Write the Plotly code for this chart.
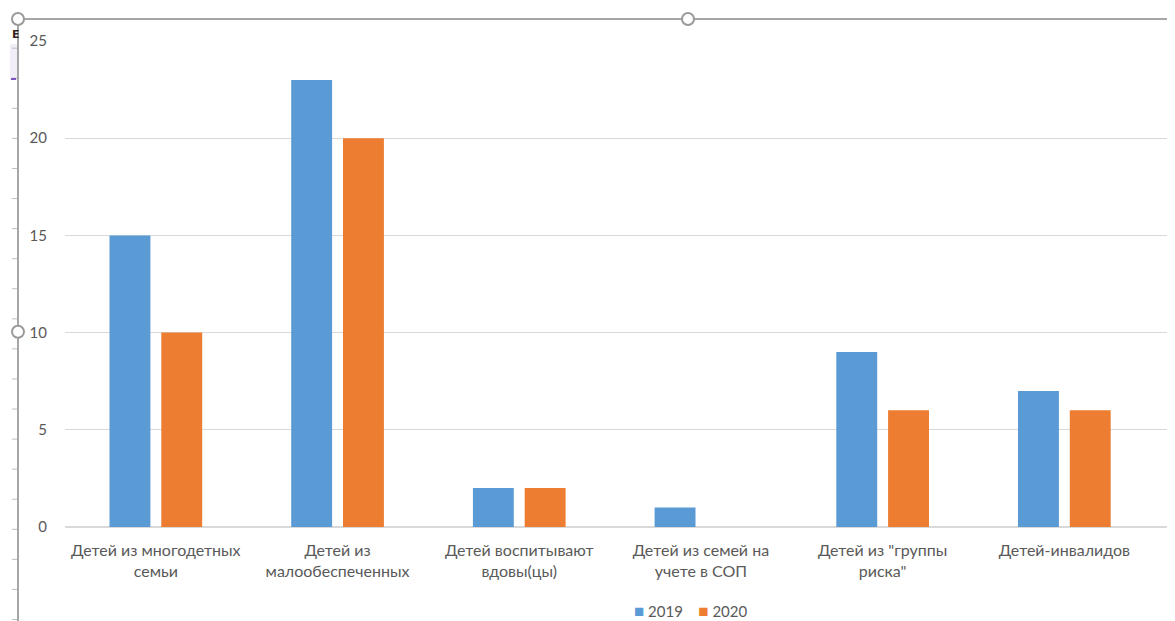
import plotly.graph_objects as go

categories = [
    "Детей из многодетных<br>семьи",
    "Детей из<br>малообеспеченных",
    "Детей воспитывают<br>вдовы(цы)",
    "Детей из семей на<br>учете в СОП",
    "Детей из \"группы<br>риска\"",
    "Детей-инвалидов",
]
series_names = ["2019", "2020"]
values_2019 = [15, 23, 2, 1, 9, 7]
values_2020 = [10, 20, 2, 0, 6, 6]
y_ticks = [0, 5, 10, 15, 20, 25]
colors = ["#5B9BD5", "#ED7D31"]

OFF = 8  # page body margin
SW, SH = 1175, 621  # screen size
W, H = SW - OFF, SH - OFF
# target plot area in screen pixels
PL, PR, PT, PB = 65, 1175, 41, 527.5
ML, MR, MT, MB = PL - OFF, W - (PR - OFF), PT - OFF, H - (PB - OFF)
PW = W - ML - MR
PH = H - MT - MB

def sx(px):
    return (px - PL) / PW

def sy(py):
    return (PB - py) / PH

fig = go.Figure()
fig.add_trace(go.Bar(x=list(range(len(categories))), y=values_2019, name=series_names[0],
                     marker=dict(color=colors[0], line=dict(width=0))))
fig.add_trace(go.Bar(x=list(range(len(categories))), y=values_2020, name=series_names[1],
                     marker=dict(color=colors[1], line=dict(width=0))))

shapes = []
frame = "#A6A6A6"
shapes.append(dict(type="line", xref="paper", yref="paper",
                   x0=sx(18), x1=sx(SW + 5), y0=sy(19), y1=sy(19),
                   line=dict(color=frame, width=2), layer="above"))
shapes.append(dict(type="line", xref="paper", yref="paper",
                   x0=sx(18), x1=sx(18), y0=sy(19), y1=sy(SH + 5),
                   line=dict(color=frame, width=2), layer="above"))
yy = 48.2
while yy < SH:
    shapes.append(dict(type="line", xref="paper", yref="paper",
                       x0=sx(12), x1=sx(17), y0=sy(yy), y1=sy(yy),
                       line=dict(color="#BFBFBF", width=1), layer="above"))
    yy += 30.1
# small purple mark and light panel at top-left (cropped window artefact)
shapes.append(dict(type="rect", xref="paper", yref="paper",
                   x0=sx(10), x1=sx(17), y0=sy(80), y1=sy(44),
                   fillcolor="#F1EEF8", line=dict(width=0), layer="below"))
shapes.append(dict(type="line", xref="paper", yref="paper",
                   x0=sx(11), x1=sx(16), y0=sy(79), y1=sy(79),
                   line=dict(color="#7B52C4", width=2), layer="above"))
for cx, cy in [(18, 19), (688, 19), (18, 332)]:
    r = 6
    shapes.append(dict(type="circle", xref="paper", yref="paper",
                       x0=sx(cx - r), x1=sx(cx + r), y0=sy(cy + r), y1=sy(cy - r),
                       fillcolor="white", line=dict(color="#9A9A9A", width=2), layer="above"))

legend_text = "&nbsp;&nbsp;&nbsp;&nbsp;".join(
    f"<span style='color:{c};font-size:17px'>■</span> {n}" for c, n in zip(colors, series_names)
)
annotations = [
    dict(xref="paper", yref="paper", x=sx(691), y=sy(611), xanchor="center",
         yanchor="middle", showarrow=False, text=legend_text,
         font=dict(family="Lato, sans-serif", size=15, color="#595959")),
    dict(xref="paper", yref="paper", x=sx(10), y=sy(34), xanchor="left",
         yanchor="middle", showarrow=False, text="<b>E</b>",
         font=dict(family="DejaVu Sans", size=11, color="#3A1F1F")),
]

fig.update_layout(
    width=W, height=H,
    margin=dict(l=ML, r=MR, t=MT, b=MB, pad=0),
    paper_bgcolor="white", plot_bgcolor="white",
    font=dict(family="Lato, 'Open Sans', sans-serif", size=16, color="#595959"),
    barmode="group", bargap=0.43, bargroupgap=0.21,
    showlegend=False,
    xaxis=dict(tickmode="array", tickvals=list(range(len(categories))), ticktext=categories,
               range=[-0.5, -0.5 + PW / 181.7], showgrid=False, zeroline=False,
               showline=False, ticks="", ticklabelstandoff=12,
               tickfont=dict(size=16, color="#595959"), fixedrange=True),
    yaxis=dict(range=[0, 25], tickvals=y_ticks, showgrid=True, gridcolor="#D9D9D9", gridwidth=1,
               zeroline=True, zerolinecolor="#D9D9D9", zerolinewidth=1.5,
               showline=False, ticks="", ticklabelstandoff=17,
               tickfont=dict(size=15, color="#595959"), fixedrange=True),
    shapes=shapes,
    annotations=annotations,
)

fig.write_html("out.html")
